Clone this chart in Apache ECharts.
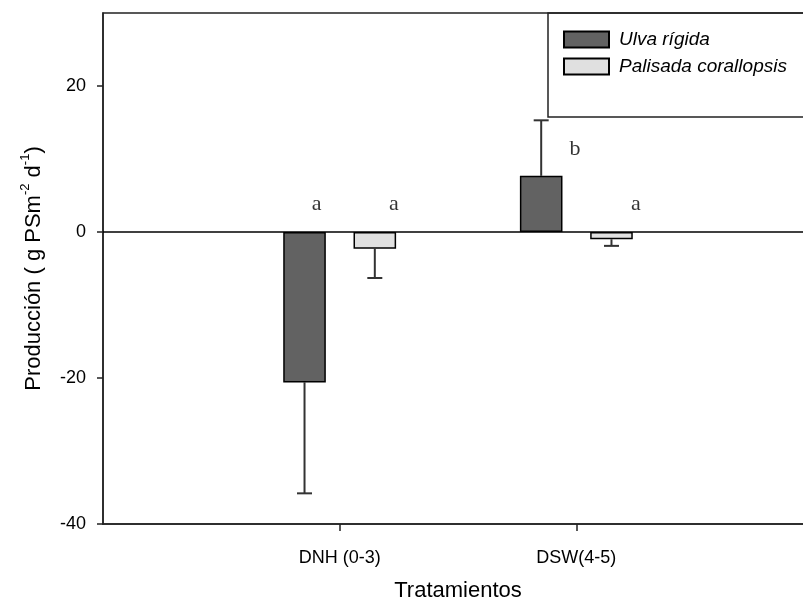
<!DOCTYPE html>
<html><head><meta charset="utf-8">
<script src="https://cdn.jsdelivr.net/npm/echarts@6/dist/echarts.min.js"></script>
<style>html,body{margin:0;padding:0;background:#fff;overflow:hidden}#c{width:816px;height:614px}</style>
</head><body><div id="c"></div>
<script>
const categories = ['DNH (0-3)', 'DSW(4-5)'];
const seriesNames = ['Ulva rígida', 'Palisada corallopsis'];
const ulvaMean = [-20.6, 7.7];
const ulvaErrEnd = [-35.8, 15.3];
const palisadaMean = [-2.3, -1.0];
const palisadaErrEnd = [-6.3, -1.9];
const yTicks = [-40, -20, 0, 20];
const letterText = ['a', 'a', 'b', 'a'];
const letterX = [0.903, 1.229, 1.994, 2.252];
const letterY = [3.8, 3.8, 11.4, 3.8];

const axisCats = [''].concat(categories, ['']);
const pad = arr => [null].concat(arr, [null]);
const SANS = 'Liberation Sans, Arial, sans-serif';

function errSeries(mean, end, sign) {
  return {
    type: 'custom', xAxisIndex: 0, yAxisIndex: 0, z: 1, silent: true,
    renderItem: function (params, api) {
      const ci = api.value(0);
      const p0 = api.coord([ci, api.value(1)]);
      const p1 = api.coord([ci, api.value(2)]);
      const bw = api.size([1, 0])[0];
      const x = p0[0] + sign * bw * 0.1485;
      const half = 7.5;
      const st = { stroke: '#333', lineWidth: 2 };
      return { type: 'group', children: [
        { type: 'line', shape: { x1: x, y1: p0[1], x2: x, y2: p1[1] }, style: st },
        { type: 'line', shape: { x1: x - half, y1: p1[1], x2: x + half, y2: p1[1] }, style: st }
      ]};
    },
    data: mean.map((m, i) => [categories[i], m, end[i]])
  };
}

const chart = echarts.init(document.getElementById('c'));
chart.setOption({
  animation: false,
  backgroundColor: '#fff',
  grid: { left: 103, top: 13, right: 3, bottom: 90, show: true, borderColor: '#222', borderWidth: 1.5 },
  legend: {
    data: seriesNames, orient: 'vertical', left: 548, top: 13,
    padding: [17, 40, 41, 15], itemWidth: 45, itemHeight: 16, itemGap: 8,
    borderColor: '#222', borderWidth: 1.5, icon: 'rect',
    textStyle: { fontFamily: SANS, fontSize: 19, fontStyle: 'italic', color: '#000', padding: [0, 0, 0, 5] }
  },
  xAxis: [{
    type: 'category', data: axisCats, boundaryGap: false,
    axisLine: { onZero: false, lineStyle: { color: '#222', width: 1.5 } },
    axisTick: { interval: (i) => i === 1 || i === 2, length: 7, lineStyle: { color: '#222', width: 1.5 } },
    axisLabel: { interval: 0, margin: 25, fontFamily: SANS, fontSize: 18, color: '#000' },
    name: 'Tratamientos', nameLocation: 'middle', nameGap: 56,
    nameTextStyle: { fontFamily: SANS, fontSize: 22, color: '#000' },
    splitLine: { show: false }
  }, {
    type: 'value', min: 0, max: 3, show: false, position: 'bottom'
  }],
  yAxis: {
    type: 'value', min: -40, max: 30, interval: 10,
    axisLine: { show: true, lineStyle: { color: '#222', width: 1.5 } },
    axisTick: { show: true, customValues: yTicks, length: 6, lineStyle: { color: '#222', width: 1.5 } },
    axisLabel: { customValues: yTicks, margin: 17, fontFamily: SANS, fontSize: 18, color: '#000' },
    splitLine: { show: false },
    name: '{t|Producción ( g PSm}{s|-2}{t| d}{s|-1}{t|)}',
    nameLocation: 'middle', nameGap: 58,
    nameTextStyle: {
      color: '#000',
      rich: {
        t: { fontFamily: SANS, fontSize: 22, color: '#000', lineHeight: 26, verticalAlign: 'bottom' },
        s: { fontFamily: SANS, fontSize: 13, color: '#000', lineHeight: 26, verticalAlign: 'top' }
      }
    }
  },
  series: [
    {
      name: seriesNames[0], type: 'bar', data: pad(ulvaMean), barWidth: '18%', barGap: '65%', z: 2,
      itemStyle: { color: '#626262', borderColor: '#000', borderWidth: 1.5 },
      markLine: { silent: true, symbol: ['none', 'none'], label: { show: false },
        lineStyle: { color: '#000', width: 1.5, type: 'solid' }, data: [{ yAxis: 0 }] }
    },
    {
      name: seriesNames[1], type: 'bar', data: pad(palisadaMean), barWidth: '18%', barGap: '65%', z: 2,
      itemStyle: { color: '#e0e0e0', borderColor: '#000', borderWidth: 1.5 }
    },
    errSeries(ulvaMean, ulvaErrEnd, -1),
    errSeries(palisadaMean, palisadaErrEnd, 1),
    {
      type: 'scatter', xAxisIndex: 1, yAxisIndex: 0, symbolSize: 0, silent: true,
      data: letterX.map((x, i) => [x, letterY[i], letterText[i]]),
      label: { show: true, position: 'inside', formatter: p => p.data[2],
        fontFamily: 'Liberation Serif, Times New Roman, serif', fontSize: 22, color: '#000' }
    }
  ]
});
</script></body></html>
